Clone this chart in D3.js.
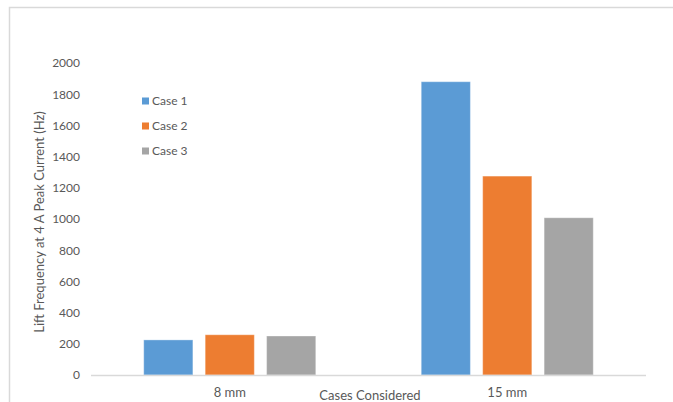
<!DOCTYPE html>
<html>
<head>
<meta charset="utf-8">
<script src="https://cdn.jsdelivr.net/npm/d3@7"></script>
<style>
  html, body { margin: 0; padding: 0; background: #fff; }
  svg { display: block; font-family: Lato, "Open Sans", sans-serif; }
</style>
</head>
<body>
<svg id="chart" width="673" height="402"></svg>
<script>
// Lift frequency at 4 A peak current, per gap size and case
const categories = ["8 mm", "15 mm"];
const seriesNames = ["Case 1", "Case 2", "Case 3"];
const case1 = [225, 1880];
const case2 = [258, 1275];
const case3 = [250, 1008];
const yTicks = [0, 200, 400, 600, 800, 1000, 1200, 1400, 1600, 1800, 2000];
const colors = ["#5B9BD5", "#ED7D31", "#A5A5A5"];

const seriesValues = [case1, case2, case3];
const rows = categories.map((c, i) => ({
  category: c,
  values: seriesNames.map((s, j) => ({ series: s, value: seriesValues[j][i] }))
}));

const svg = d3.select("#chart");
const plot = { left: 91, right: 646, top: 63, bottom: 375 };

// Frame lines (top and left edges of the chart area)
svg.append("path")
  .attr("d", "M9.5,402V7.5H673")
  .attr("fill", "none")
  .attr("stroke", "#d9d9d9")
  .attr("stroke-width", 1.5);

const x0 = d3.scaleBand()
  .domain(categories)
  .range([plot.left, plot.right])
  .paddingInner(0.38)
  .paddingOuter(0.19);

const x1 = d3.scaleBand()
  .domain(seriesNames)
  .range([0, x0.bandwidth()])
  .paddingInner(0.2)
  .paddingOuter(0);

const y = d3.scaleLinear()
  .domain([0, 2000])
  .range([plot.bottom, plot.top]);

const color = d3.scaleOrdinal().domain(seriesNames).range(colors);

// Y axis tick labels (no axis line, no ticks)
const yAxis = svg.append("g")
  .attr("transform", `translate(${plot.left - 11},0)`)
  .call(d3.axisLeft(y).tickValues(yTicks).tickSize(0).tickPadding(0).tickFormat(d3.format("d")));
yAxis.select(".domain").remove();
yAxis.selectAll("text")
  .attr("fill", "#595959")
  .attr("font-size", 12)
  .attr("font-family", "Lato, 'Open Sans', sans-serif");

// Bars
const groups = svg.append("g").selectAll("g")
  .data(rows)
  .join("g")
  .attr("transform", d => `translate(${x0(d.category)},0)`);

groups.selectAll("rect")
  .data(d => d.values)
  .join("rect")
  .attr("x", d => x1(d.series))
  .attr("y", d => y(d.value))
  .attr("width", x1.bandwidth())
  .attr("height", d => y(0) - y(d.value))
  .attr("fill", d => color(d.series))
  .attr("stroke", "#ffffff")
  .attr("stroke-opacity", 0.35)
  .attr("stroke-width", 1);

// Baseline
svg.append("line")
  .attr("x1", plot.left).attr("x2", plot.right)
  .attr("y1", y(0) + 0.5).attr("y2", y(0) + 0.5)
  .attr("stroke", "#d9d9d9")
  .attr("stroke-width", 1.5);

// Category labels
const xAxis = svg.append("g")
  .attr("transform", `translate(0,${plot.bottom})`)
  .call(d3.axisBottom(x0).tickSize(0).tickPadding(13));
xAxis.select(".domain").remove();
xAxis.selectAll("text")
  .attr("fill", "#595959")
  .attr("font-size", 13)
  .attr("font-family", "Lato, 'Open Sans', sans-serif");

// Axis titles
svg.append("text")
  .attr("x", 370).attr("y", 400)
  .attr("text-anchor", "middle")
  .attr("fill", "#595959")
  .attr("font-size", 13)
  .text("Cases Considered");

svg.append("text")
  .attr("transform", "translate(44,222) rotate(-90)")
  .attr("text-anchor", "middle")
  .attr("fill", "#595959")
  .attr("font-size", 13)
  .text("Lift Frequency at 4 A Peak Current (Hz)");

// Legend
const legend = svg.append("g").attr("transform", "translate(142,101)");
const items = legend.selectAll("g")
  .data(seriesNames)
  .join("g")
  .attr("transform", (d, i) => `translate(0,${i * 25})`);
items.append("rect")
  .attr("x", 0).attr("y", -3.5)
  .attr("width", 7).attr("height", 7)
  .attr("fill", d => color(d));
items.append("text")
  .attr("x", 10).attr("y", 0)
  .attr("dy", "0.35em")
  .attr("fill", "#595959")
  .attr("font-size", 12)
  .text(d => d);
</script>
</body>
</html>
